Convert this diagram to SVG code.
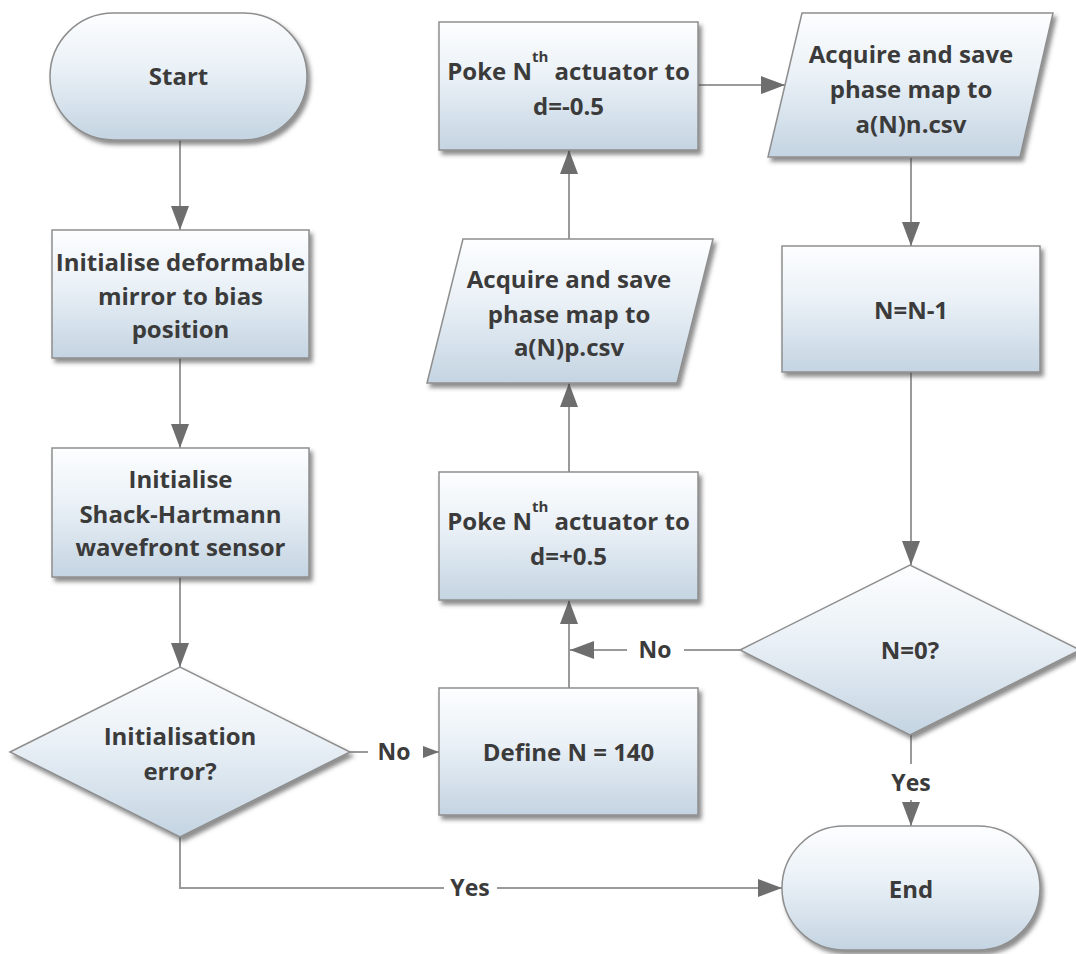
<svg xmlns="http://www.w3.org/2000/svg" width="1076" height="954" viewBox="0 0 1076 954">
  <defs>
    <linearGradient id="fillGrad" x1="0" y1="0" x2="0" y2="1">
      <stop offset="0" stop-color="#fdfeff"/>
      <stop offset="0.45" stop-color="#e9f0f6"/>
      <stop offset="1" stop-color="#c4d4e2"/>
    </linearGradient>
    <filter id="shadow" x="-10%" y="-10%" width="125%" height="130%">
      <feDropShadow dx="3" dy="4" stdDeviation="2" flood-color="#404040" flood-opacity="0.6"/>
    </filter>
    <marker id="arrow" viewBox="0 0 24 18" refX="24" refY="9" markerWidth="24" markerHeight="18" markerUnits="userSpaceOnUse" orient="auto">
      <path d="M0,0 L24,9 L0,18 Z" fill="#6e6e6e"/>
    </marker>
    <marker id="arrowSmall" viewBox="0 0 16 12" refX="16" refY="6" markerWidth="16" markerHeight="12" markerUnits="userSpaceOnUse" orient="auto">
      <path d="M0,0 L16,6 L0,12 Z" fill="#6e6e6e"/>
    </marker>
  </defs>
  <style>
    .shape { fill: url(#fillGrad); stroke: #8e8e8e; stroke-width: 1.5; filter: url(#shadow); }
    .label { font-family: "Open Sans", "Noto Sans", "Liberation Sans", sans-serif; font-weight: bold; font-size: 24px; fill: #3b3b3b; text-anchor: middle; }
    .sup { font-size: 15px; }
    .edge { fill: none; stroke: #9a9a9a; stroke-width: 2; }
    .edge-label { font-family: "Open Sans", "Noto Sans", "Liberation Sans", sans-serif; font-weight: bold; font-size: 23px; fill: #3b3b3b; text-anchor: middle; }
  </style>
  <rect width="1076" height="954" fill="#ffffff"/>

  <!-- connectors -->
  <g id="connectors">
    <line class="edge" x1="180" y1="140" x2="180" y2="230" marker-end="url(#arrow)"/>
    <line class="edge" x1="180" y1="358" x2="180" y2="448" marker-end="url(#arrow)"/>
    <line class="edge" x1="180" y1="577" x2="180" y2="667" marker-end="url(#arrow)"/>
    <!-- decision "No" to Define N -->
    <line class="edge" x1="350" y1="752" x2="368" y2="752"/>
    <text class="edge-label" x="394" y="760">No</text>
    <line class="edge" x1="423" y1="752" x2="439" y2="752" marker-end="url(#arrowSmall)"/>
    <!-- decision "Yes" to End -->
    <polyline class="edge" points="180,837 180,888 444,888"/>
    <text class="edge-label" x="470" y="896">Yes</text>
    <line class="edge" x1="497" y1="888" x2="782" y2="888" marker-end="url(#arrow)"/>
    <!-- Define N up to first poke -->
    <line class="edge" x1="569" y1="688" x2="569" y2="600" marker-end="url(#arrow)"/>
    <!-- N=0 "No" loop back -->
    <line class="edge" x1="740" y1="650" x2="684" y2="650"/>
    <text class="edge-label" x="655" y="658">No</text>
    <line class="edge" x1="627" y1="650" x2="570" y2="650" marker-end="url(#arrow)"/>
    <line class="edge" x1="569" y1="472" x2="569" y2="383" marker-end="url(#arrow)"/>
    <line class="edge" x1="569" y1="239" x2="569" y2="150" marker-end="url(#arrow)"/>
    <line class="edge" x1="698" y1="85" x2="785" y2="85" marker-end="url(#arrow)"/>
    <line class="edge" x1="911" y1="158" x2="911" y2="246" marker-end="url(#arrow)"/>
    <line class="edge" x1="911" y1="372" x2="911" y2="565" marker-end="url(#arrow)"/>
    <!-- N=0 "Yes" to End -->
    <line class="edge" x1="911" y1="735" x2="911" y2="764"/>
    <text class="edge-label" x="911" y="791">Yes</text>
    <line class="edge" x1="911" y1="800" x2="911" y2="826" marker-end="url(#arrow)"/>
  </g>

  <g id="start">
    <rect class="shape" x="50" y="13" width="257" height="127" rx="63.5" ry="63.5"/>
    <text class="label" x="178.5" y="85">Start</text>
  </g>

  <g id="init-mirror">
    <rect class="shape" x="52" y="230" width="257" height="128"/>
    <text class="label" x="180.5" y="271">Initialise deformable</text>
    <text class="label" x="180.5" y="305">mirror to bias</text>
    <text class="label" x="180.5" y="338">position</text>
  </g>

  <g id="init-sensor">
    <rect class="shape" x="52" y="448" width="257" height="129"/>
    <text class="label" x="180.5" y="488">Initialise</text>
    <text class="label" x="180.5" y="523">Shack-Hartmann</text>
    <text class="label" x="180.5" y="556">wavefront sensor</text>
  </g>

  <g id="init-error">
    <polygon class="shape" points="10,752 180,667 350,752 180,837"/>
    <text class="label" x="180" y="745">Initialisation</text>
    <text class="label" x="180" y="780">error?</text>
  </g>

  <g id="define-n">
    <rect class="shape" x="439" y="688" width="259" height="127"/>
    <text class="label" x="568.5" y="761">Define N = 140</text>
  </g>

  <g id="poke-plus">
    <rect class="shape" x="439" y="472" width="259" height="128"/>
    <text class="label" x="568.5" y="530">Poke N<tspan class="sup" dy="-18">th</tspan><tspan dy="18"> actuator to</tspan></text>
    <text class="label" x="568.5" y="565">d=+0.5</text>
  </g>

  <g id="save-p">
    <polygon class="shape" points="463,239 713,239 677,383 427,383"/>
    <text class="label" x="569" y="288">Acquire and save</text>
    <text class="label" x="569" y="323">phase map to</text>
    <text class="label" x="569" y="356">a(N)p.csv</text>
  </g>

  <g id="poke-minus">
    <rect class="shape" x="439" y="22" width="259" height="128"/>
    <text class="label" x="568.5" y="80">Poke N<tspan class="sup" dy="-18">th</tspan><tspan dy="18"> actuator to</tspan></text>
    <text class="label" x="568.5" y="115">d=-0.5</text>
  </g>

  <g id="save-n">
    <polygon class="shape" points="802,13 1053,13 1020,157 768,157"/>
    <text class="label" x="911" y="63">Acquire and save</text>
    <text class="label" x="911" y="98">phase map to</text>
    <text class="label" x="911" y="133">a(N)n.csv</text>
  </g>

  <g id="decrement">
    <rect class="shape" x="782" y="246" width="258" height="126"/>
    <text class="label" x="911" y="319">N=N-1</text>
  </g>

  <g id="n-zero">
    <polygon class="shape" points="740,650 910,565 1080,650 910,735"/>
    <text class="label" x="910" y="659">N=0?</text>
  </g>

  <g id="end">
    <rect class="shape" x="782" y="826" width="258" height="124" rx="62" ry="62"/>
    <text class="label" x="911" y="898">End</text>
  </g>
</svg>
